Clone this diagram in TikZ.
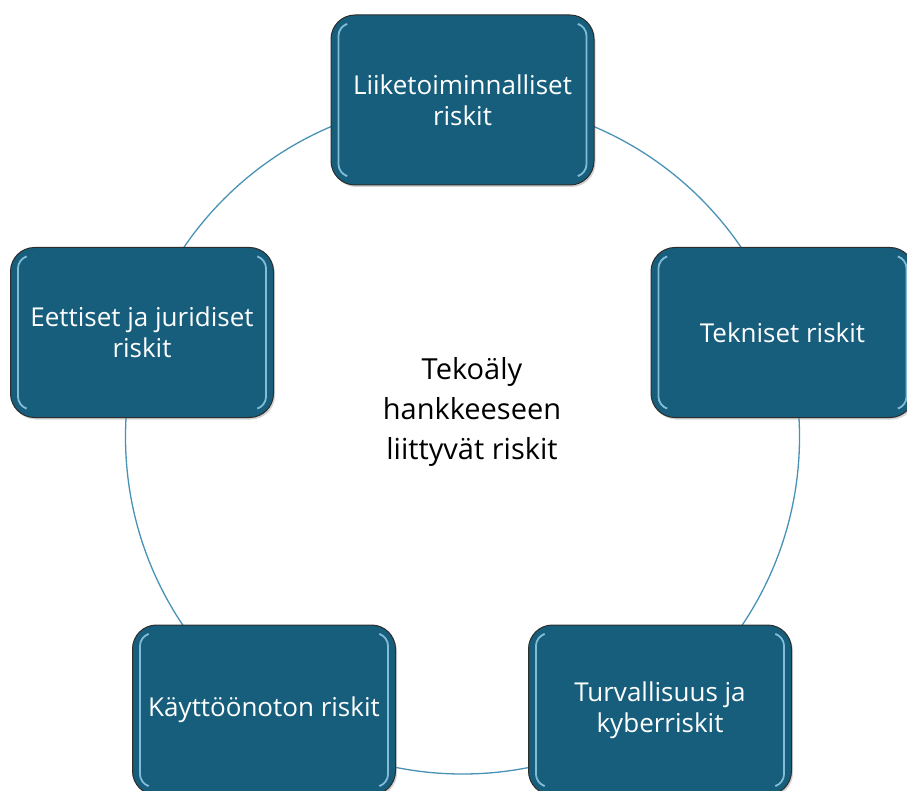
\documentclass[tikz,border=0pt]{standalone}
\usepackage{fontspec}
\setmainfont{Open Sans}
\usetikzlibrary{shadows}
\definecolor{boxfill}{RGB}{22,94,124}
\definecolor{ringcol}{RGB}{72,146,182}
\definecolor{hlcol}{RGB}{150,205,232}
\definecolor{edgecol}{RGB}{45,45,45}
\tikzset{
  riskbox/.style={rectangle, rounded corners=24pt, minimum width=263pt, minimum height=170pt,
    fill=boxfill, draw=edgecol, line width=1pt, text=white, align=center,
    font=\fontsize{26}{31}\selectfont,
    drop shadow={opacity=0.35, shadow xshift=1.5pt, shadow yshift=-2pt}},
  hl/.style={draw=hlcol, line width=1.8pt, line cap=round, rounded corners=9pt, opacity=0.85},
  ring/.style={draw=ringcol, line width=1.3pt},
  centertext/.style={align=center, text=black, font=\fontsize{29}{40}\selectfont}
}
\newcommand{\hilite}[1]{%
  \draw[hl] ([xshift=15pt,yshift=-10pt]#1.north west) -- ([xshift=8pt,yshift=-12pt]#1.north west)
            -- ([xshift=8pt,yshift=12pt]#1.south west) -- ([xshift=15pt,yshift=10pt]#1.south west);
  \draw[hl] ([xshift=-15pt,yshift=-10pt]#1.north east) -- ([xshift=-8pt,yshift=-12pt]#1.north east)
            -- ([xshift=-8pt,yshift=12pt]#1.south east) -- ([xshift=-15pt,yshift=10pt]#1.south east);
}
\begin{document}
\begin{tikzpicture}[x=1pt,y=-1pt]
\useasboundingbox (0,0) rectangle (907,791);
\path[ring] (462.5,437) circle[radius=337pt];
\node[centertext] (c) at (472,412) {Tekoäly\\hankkeeseen\\liittyvät riskit};
\node[riskbox] (b1) at (462.5,100) {Liiketoiminnalliset\\riskit};
\node[riskbox] (b2) at (782.5,332.5) {Tekniset riskit};
\node[riskbox] (b3) at (660,710) {Turvallisuus ja\\kyberriskit};
\node[riskbox] (b4) at (264,710) {Käyttöönoton riskit};
\node[riskbox] (b5) at (142,332.5) {Eettiset ja juridiset\\riskit};
\hilite{b1}\hilite{b2}\hilite{b3}\hilite{b4}\hilite{b5}
\end{tikzpicture}
\end{document}
